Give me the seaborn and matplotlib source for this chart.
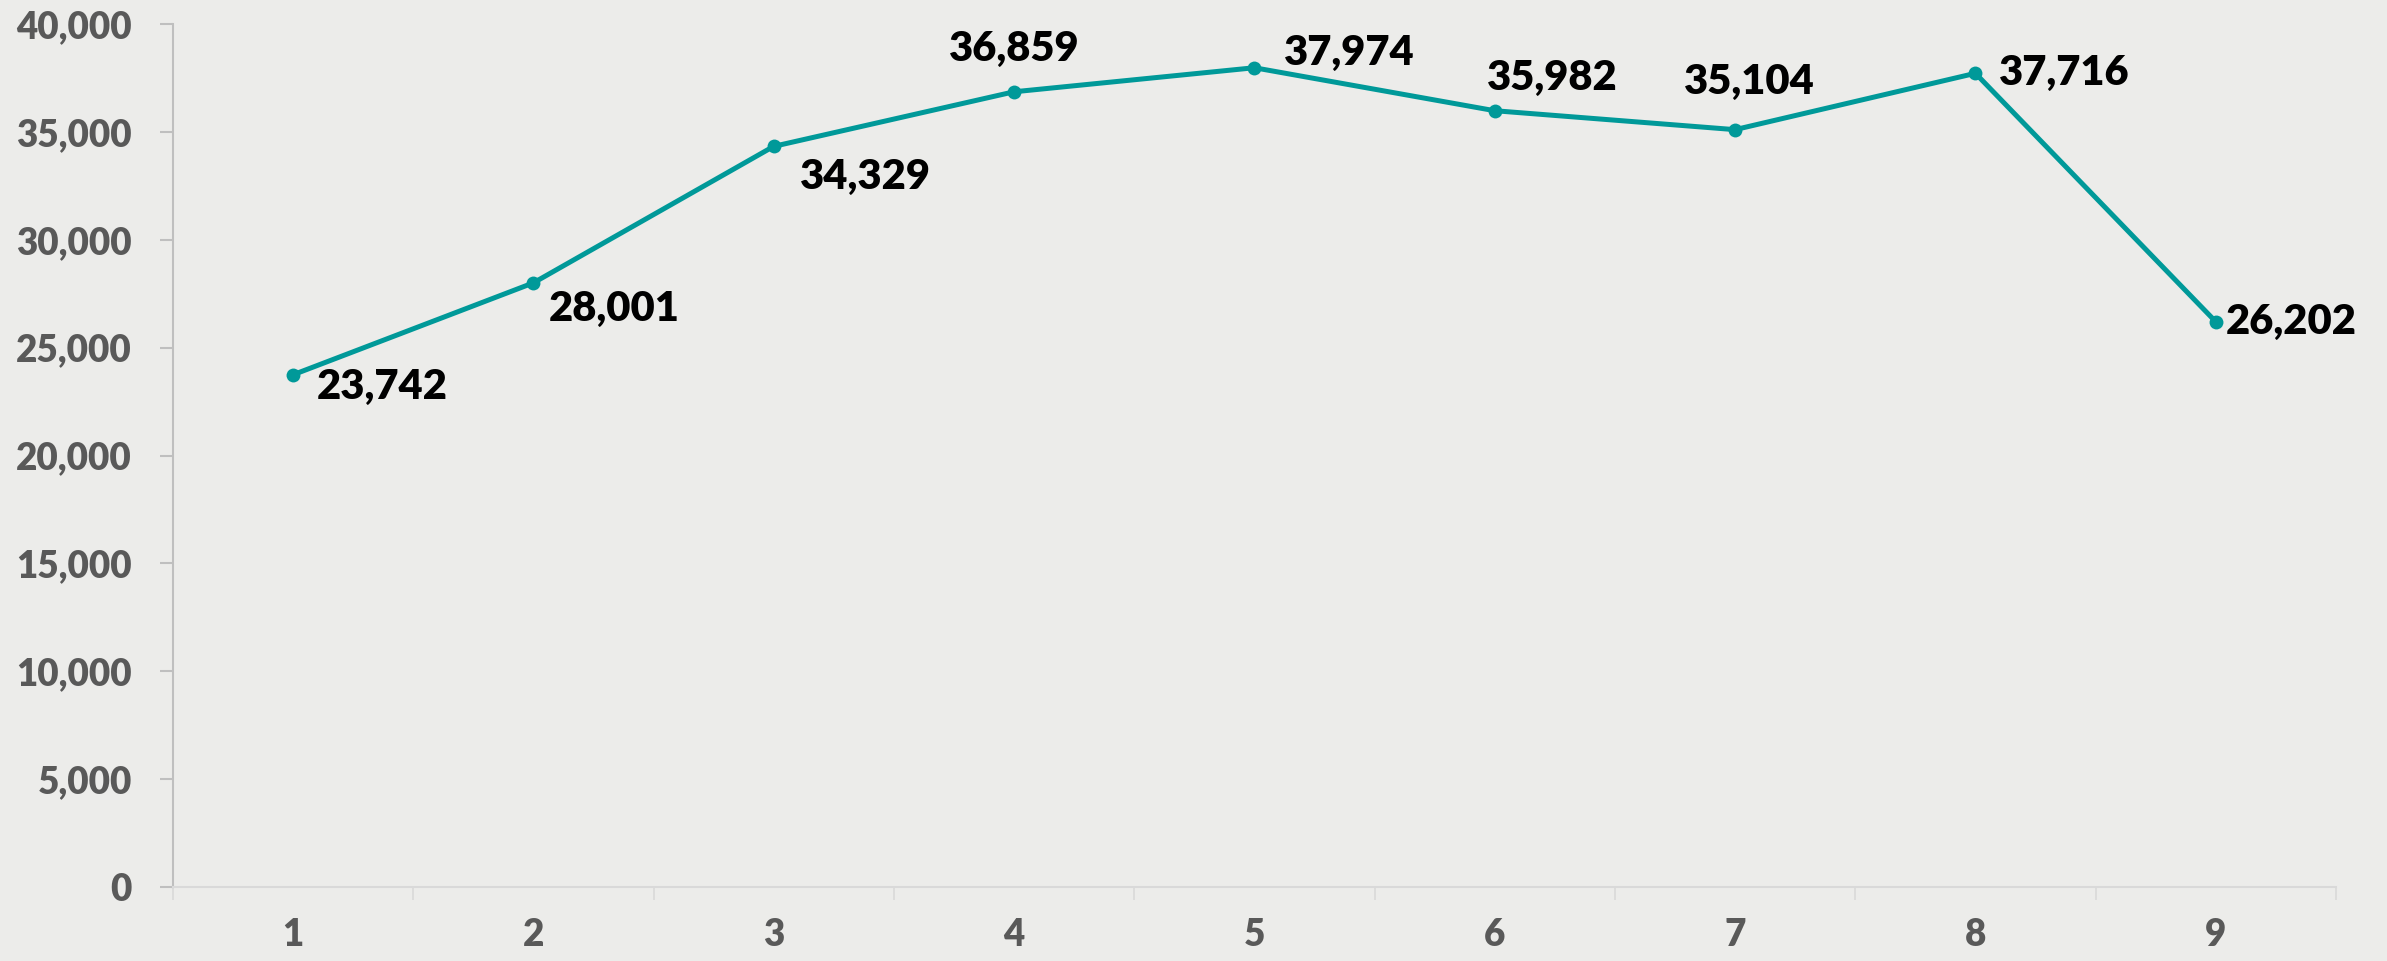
import numpy as np
import pandas as pd
import seaborn as sns
from matplotlib import pyplot as plt
from matplotlib.ticker import FuncFormatter, FixedLocator

categories = ["1", "2", "3", "4", "5", "6", "7", "8", "9"]
values = [23742, 28001, 34329, 36859, 37974, 35982, 35104, 37716, 26202]
y_ticks = [0, 5000, 10000, 15000, 20000, 25000, 30000, 35000, 40000]

# label placement per point: (dx, dy) in pixels, horizontal alignment
label_layout = [
    (24, -12, "left"),
    (15, -26, "left"),
    (26, -31, "left"),
    (0, 43, "center"),
    (30, 15, "left"),
    (-8, 33, "left"),
    (14, 48, "center"),
    (24, 0, "left"),
    (10, 0, "left"),
]

line_color = "#009999"
bg_color = "#ECECEA"
tick_color = "#595959"

sns.set_theme(style="white")
plt.rcParams["font.family"] = ["Lato", "DejaVu Sans"]

df = pd.DataFrame({"pos": np.arange(len(categories)), "value": values})

figure = plt.figure(figsize=(23.87, 9.61), dpi=100, facecolor=bg_color)
ax = figure.add_axes([0.0724, 0.0770, 0.9062, 0.898])
ax.set_facecolor(bg_color)

sns.lineplot(
    data=df,
    x="pos",
    y="value",
    ax=ax,
    color=line_color,
    linewidth=3.6,
    marker="o",
    markersize=10,
    markeredgecolor=line_color,
    markeredgewidth=0,
)

for pos, value, (dx, dy, ha) in zip(df["pos"], values, label_layout):
    ax.annotate(
        f"{value:,}",
        xy=(pos, value),
        xytext=(dx, dy),
        textcoords="offset pixels",
        ha=ha,
        va="center",
        fontsize=30,
        fontweight="heavy",
        color="black",
    )

ax.set_xlim(-0.5, len(categories) - 0.5)
ax.set_ylim(0, 40000)
ax.set_xticks(df["pos"], categories)
ax.xaxis.set_minor_locator(FixedLocator(np.arange(-0.5, len(categories), 1.0)))
ax.set_yticks(y_ticks)
ax.yaxis.set_major_formatter(FuncFormatter(lambda v, _: f"{int(v):,}"))
ax.set_xlabel("")
ax.set_ylabel("")

ax.tick_params(axis="x", which="major", length=0, pad=22, labelsize=26.5,
               labelcolor=tick_color)
ax.tick_params(axis="x", which="minor", length=9.4, width=1.2, color="#D9D9D9",
               direction="out", bottom=True)
ax.tick_params(axis="y", which="major", length=9.4, width=1.5, color="#BFBFBF",
               direction="out", left=True, pad=20, labelsize=26.5,
               labelcolor=tick_color)
for label in ax.get_xticklabels() + ax.get_yticklabels():
    label.set_fontweight("heavy")

for side in ("top", "right"):
    ax.spines[side].set_visible(False)
ax.spines["left"].set_color("#BFBFBF")
ax.spines["left"].set_linewidth(1.5)
ax.spines["bottom"].set_color("#D9D9D9")
ax.spines["bottom"].set_linewidth(1.5)

figure.savefig("out.png", dpi=100, facecolor=bg_color)
